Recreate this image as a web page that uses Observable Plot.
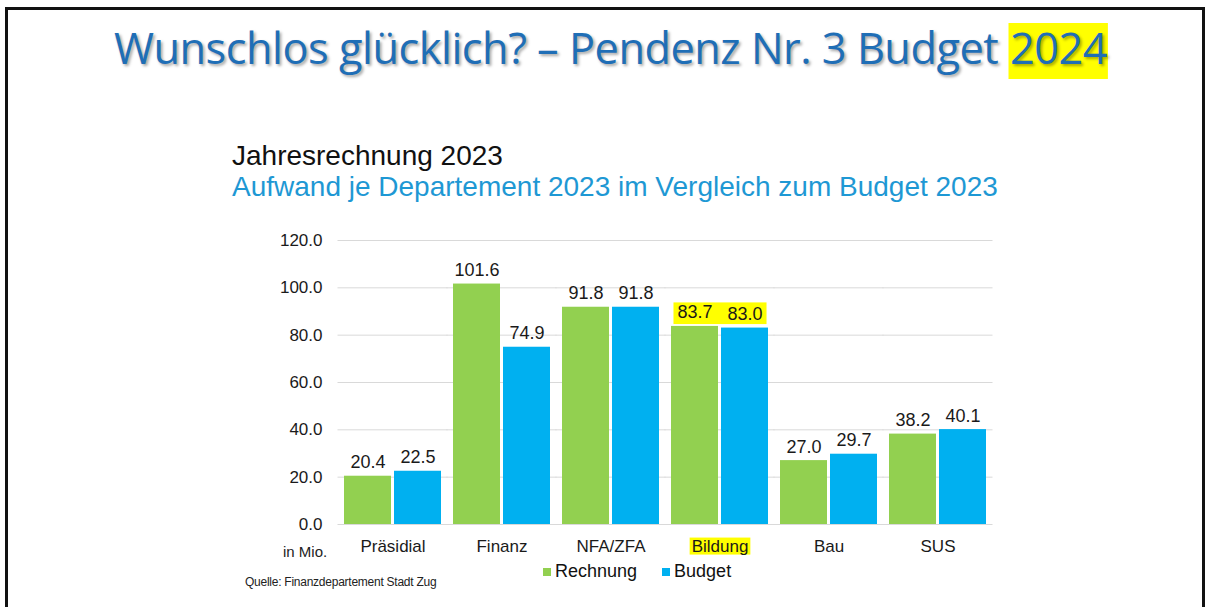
<!DOCTYPE html>
<html><head><meta charset="utf-8">
<script src="https://cdn.jsdelivr.net/npm/d3@7"></script>
<script src="https://cdn.jsdelivr.net/npm/@observablehq/plot@0.6"></script>
<style>
html,body{margin:0;padding:0;background:#fff;width:1208px;height:607px;overflow:hidden;position:relative;}
#frame{position:absolute;left:5px;top:7px;width:1200px;height:660px;border:3px solid #111;box-sizing:border-box;}
.t{position:absolute;white-space:nowrap;line-height:1;}
#title{left:114px;top:23px;font-family:"Open Sans",sans-serif;font-size:44px;color:#1F6EB6;text-shadow:2px 2px 3px rgba(0,0,0,0.35);transform-origin:0 0;letter-spacing:-0.5px;}
#title .hl{background:#FFFF00;display:inline-block;padding:2px 1px 10px 1px;}
#sub1{left:232px;top:142px;font-family:Arial,"Liberation Sans",sans-serif;font-size:28px;color:#111;}
#sub2{left:232px;top:173px;font-family:Arial,"Liberation Sans",sans-serif;font-size:28px;color:#1E98D4;}
#unit{left:283px;top:544px;font-family:Arial,"Liberation Sans",sans-serif;font-size:15px;color:#222;}
#legend{left:543px;top:562px;font-family:Arial,"Liberation Sans",sans-serif;font-size:18px;color:#111;display:flex;align-items:center;}
#legend .item{display:flex;align-items:center;margin-right:25px;}
#legend .sw{width:8px;height:8px;margin-right:4px;margin-top:2px;}
#source{left:245px;top:576px;font-family:Arial,"Liberation Sans",sans-serif;font-size:12px;color:#222;letter-spacing:-0.25px;}
#chart{position:absolute;left:0;top:220px;}
</style></head>
<body>
<div id="frame"></div>
<div id="title" class="t"></div>
<div id="sub1" class="t"></div>
<div id="sub2" class="t"></div>
<div id="chart"></div>
<div id="unit" class="t"></div>
<div id="legend" class="t"></div>
<div id="source" class="t"></div>
<script>
// ---- data ----
const titleMain = "Wunschlos glücklich? – Pendenz Nr. 3 Budget ";
const titleHighlight = "2024";
const subtitle1 = "Jahresrechnung 2023";
const subtitle2 = "Aufwand je Departement 2023 im Vergleich zum Budget 2023";
const unitLabel = "in Mio.";
const sourceText = "Quelle: Finanzdepartement Stadt Zug";
const departments = ["Präsidial", "Finanz", "NFA/ZFA", "Bildung", "Bau", "SUS"];
const rechnung = [20.4, 101.6, 91.8, 83.7, 27.0, 38.2];
const budget = [22.5, 74.9, 91.8, 83.0, 29.7, 40.1];
const seriesNames = ["Rechnung", "Budget"];
const seriesColors = ["#92D050", "#00B0F0"];
const yTicks = [0, 20, 40, 60, 80, 100, 120];
const highlightedDepartments = ["Bildung"];

// ---- texts ----
const title = document.getElementById("title");
title.textContent = titleMain;
const hl = document.createElement("span");
hl.className = "hl";
hl.textContent = titleHighlight;
title.appendChild(hl);
document.getElementById("sub1").textContent = subtitle1;
document.getElementById("sub2").textContent = subtitle2;
document.getElementById("unit").textContent = unitLabel;
document.getElementById("source").textContent = sourceText;
const legend = document.getElementById("legend");
seriesNames.forEach((s, i) => {
  const it = document.createElement("div"); it.className = "item";
  const sw = document.createElement("div"); sw.className = "sw"; sw.style.background = seriesColors[i];
  const lb = document.createElement("span"); lb.textContent = s;
  it.appendChild(sw); it.appendChild(lb); legend.appendChild(it);
});
// fit title width
const targetTitleWidth = 1108 - 114;
const tw = title.getBoundingClientRect().width;
title.style.transform = `scaleX(${targetTitleWidth / tw})`;

// ---- chart ----
const rows = [];
departments.forEach((d, i) => {
  rows.push({dept: d, series: seriesNames[0], value: rechnung[i]});
  rows.push({dept: d, series: seriesNames[1], value: budget[i]});
});
const isHl = r => highlightedDepartments.includes(r.dept);

const plot = Plot.plot({
  width: 1208,
  height: 340,
  marginLeft: 338,
  marginRight: 216,
  marginTop: 20,
  marginBottom: 36,
  style: {fontFamily: "Arial, 'Liberation Sans', sans-serif", fontSize: "17px", color: "#1a1a1a", background: "transparent", overflow: "visible"},
  fx: {domain: departments, paddingInner: 0.11, paddingOuter: 0.055, label: null, tickSize: 0, tickPadding: 15},
  x: {domain: seriesNames, paddingInner: 0.065, paddingOuter: 0, axis: null},
  y: {domain: [0, 120], ticks: yTicks, tickFormat: d => d.toFixed(1), tickSize: 0, tickPadding: 22, label: null},
  color: {domain: seriesNames, range: seriesColors},
  marks: [
    Plot.ruleY(yTicks, {stroke: "#D9D9D9", strokeWidth: 1, insetLeft: -6.5, insetRight: -6.5}),
    Plot.barY(rows, {fx: "dept", x: "series", y: "value", fill: "series"}),
    Plot.text(rows.filter(r => !isHl(r)), {fx: "dept", x: "series", y: "value", text: d => d.value.toFixed(1), lineAnchor: "bottom", dy: -8, fill: "#1a1a1a", fontSize: 18}),
    Plot.text(rows.filter(isHl), {fx: "dept", x: "series", y: "value", text: d => d.value.toFixed(1), lineAnchor: "bottom", dy: -8, fill: "#1a1a1a", fontSize: 18, ariaDescription: "highlight-values"})
  ]
});
document.getElementById("chart").appendChild(plot);

// ---- highlighter marks behind selected texts ----
function addHighlight(svg, textEls, padX, padY) {
  if (!textEls.length) return;
  const sr = svg.getBoundingClientRect();
  let x0 = Infinity, y0 = Infinity, x1 = -Infinity, y1 = -Infinity;
  textEls.forEach(t => {
    const r = t.getBoundingClientRect();
    x0 = Math.min(x0, r.left); y0 = Math.min(y0, r.top);
    x1 = Math.max(x1, r.right); y1 = Math.max(y1, r.bottom);
  });
  const rect = document.createElementNS("http://www.w3.org/2000/svg", "rect");
  rect.setAttribute("x", x0 - sr.left - padX);
  rect.setAttribute("y", y0 - sr.top - padY);
  rect.setAttribute("width", x1 - x0 + 2 * padX);
  rect.setAttribute("height", y1 - y0 + 2 * padY);
  rect.setAttribute("fill", "#FFFF00");
  const first = Array.from(svg.children).find(c => c.tagName !== "style");
  svg.insertBefore(rect, first);
}
const svg = plot.tagName === "svg" ? plot : plot.querySelector("svg");
const hlGroup = svg.querySelector('[aria-description="highlight-values"]');
const hlVals = hlGroup ? Array.from(hlGroup.querySelectorAll("text")) : [];
addHighlight(svg, hlVals, 4, 0);
const catLabels = Array.from(svg.querySelectorAll("text")).filter(t => highlightedDepartments.includes(t.textContent) && !(hlGroup && hlGroup.contains(t)));
addHighlight(svg, catLabels, 2, -1);
</script>
</body></html>
